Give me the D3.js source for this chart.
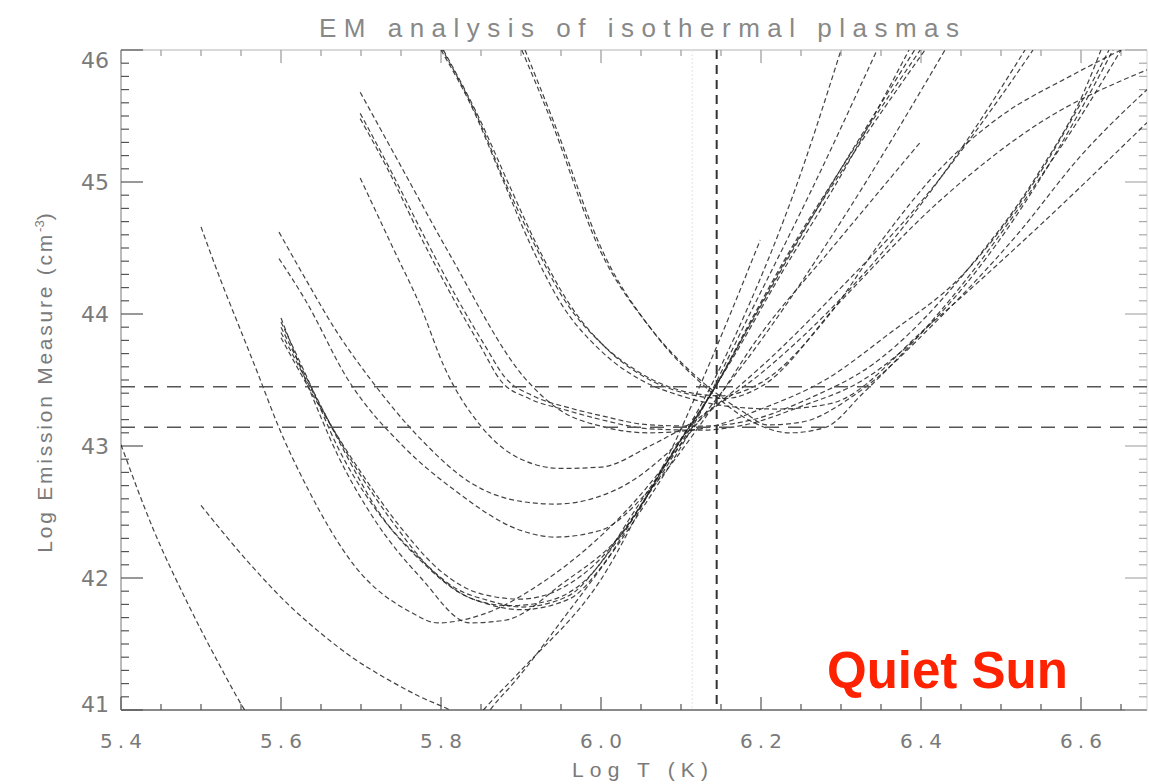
<!DOCTYPE html>
<html>
<head>
<meta charset="utf-8">
<script src="https://cdn.jsdelivr.net/npm/d3@7"></script>
<style>
  html, body { margin: 0; padding: 0; background: #fff; }
  svg { display: block; }
</style>
</head>
<body>
<script>
// ---------- data ----------
const titleText = "EM analysis of isothermal plasmas";
const xTitle = "Log T (K)";
const xMajor = [5.4, 5.6, 5.8, 6.0, 6.2, 6.4, 6.6];
const xLabels = ["5.4", "5.6", "5.8", "6.0", "6.2", "6.4", "6.6"];
const yMajor = [41, 42, 43, 44, 45, 46];
const yLabels = ["41", "42", "43", "44", "45", "46"];
const hRefLines = [43.449, 43.142];
const vRefLine = 6.1446;
const vFaintLine = 6.114;
const labelText = "Quiet Sun";

// EM loci: [log T, log EM]
const curveC1 = [[5.400,43.01],[5.441,42.36],[5.484,41.8],[5.525,41.32],[5.5525,41.02],[5.62,40.5],[5.72,40.3],[5.80,40.6],[5.853,41.0],[5.9,41.3],[5.999,41.98],[6.074,42.80],[6.124,43.3],[6.18,44.0],[6.24,44.9],[6.30,46.0]];
const curveSc = [[5.500,42.55],[5.565,42.08],[5.609,41.8],[5.650,41.58],[5.691,41.39],[5.734,41.23],[5.774,41.10],[5.811,41.0],[5.84,40.9],[5.875,41.1],[5.9575,41.73],[6.04,42.42],[6.124,43.25],[6.186,44.0],[6.26,44.9],[6.345,46.0]];
const curveSb = [[5.500,44.66],[5.525,44.25],[5.548,43.9],[5.571,43.55],[5.596,43.16],[5.634,42.67],[5.691,42.1],[5.7625,41.74],[5.796,41.66],[5.85,41.72],[5.93,41.98],[6.03,42.5],[6.124,43.2],[6.2,43.8],[6.3,44.7],[6.43,46.0]];
const curveF1 = [[5.6,43.97],[5.634,43.45],[5.671,42.93],[5.716,42.45],[5.775,42.0],[5.836,41.66],[5.88,41.68],[5.95,41.95],[6.04,42.45],[6.09,43.0],[6.1325,43.58],[6.165,44.05],[6.199,44.56]];
const curveF2 = [[5.6,43.94],[5.634,43.5],[5.671,42.99],[5.716,42.54],[5.775,42.14],[5.816,41.93],[5.859,41.83],[5.9,41.78],[5.958,41.86],[5.999,42.11],[6.04,42.49],[6.074,42.80],[6.108,43.12],[6.133,43.35],[6.19,43.98],[6.2275,44.39],[6.299,45.09],[6.399,46.0]];
const curveF3 = [[5.6,43.9],[5.64,43.42],[5.68,42.95],[5.72,42.52],[5.78,42.1],[5.82,41.9],[5.86,41.8],[5.9,41.76],[5.96,41.84],[6.0,42.08],[6.045,42.5],[6.08,42.85],[6.113,43.17],[6.14,43.42],[6.195,44.02],[6.235,44.45],[6.305,45.12],[6.405,46.0]];
const curveF4 = [[5.6,43.86],[5.645,43.35],[5.69,42.87],[5.74,42.42],[5.79,42.05],[5.84,41.84],[5.885,41.79],[5.93,41.82],[5.98,41.98],[6.02,42.28],[6.06,42.65],[6.1,43.05],[6.13,43.32],[6.18,43.85],[6.225,44.33],[6.29,45.0],[6.392,46.0]];
const curveF5 = [[5.6,43.82],[5.65,43.28],[5.7,42.8],[5.75,42.38],[5.8,42.05],[5.85,41.88],[5.9,41.84],[5.95,41.92],[6.0,42.15],[6.05,42.55],[6.1,43.02],[6.125,43.27],[6.17,43.72],[6.22,44.25],[6.3,45.05],[6.385,46.0]];
const curveSd = [[5.5975,44.62],[5.634,44.23],[5.666,43.90],[5.7125,43.5],[5.775,43.05],[5.8375,42.72],[5.9,42.58],[5.9425,42.56],[5.999,42.62],[6.04,42.74],[6.08,42.93],[6.124,43.2],[6.2,43.55],[6.286,44.03],[6.37,44.6],[6.45,45.25],[6.53,46.0]];
const curveSe = [[5.5975,44.42],[5.63,44.11],[5.684,43.5],[5.754,42.99],[5.816,42.67],[5.9,42.36],[5.9425,42.31],[5.999,42.36],[6.061,42.67],[6.124,43.16],[6.2,43.85],[6.286,44.48],[6.399,45.30]];
const curveSi = [[5.699,45.03],[5.74,44.5],[5.775,44.05],[5.804,43.6],[5.85,43.15],[5.9,42.9],[5.95,42.83],[6.0,42.84],[6.061,43.0],[6.124,43.22],[6.2,43.6],[6.3,44.2],[6.4,44.85],[6.5,45.65],[6.54,46.0]];
const curveSg = [[5.699,45.68],[5.749,45.13],[5.811,44.45],[5.904,43.52],[5.949,43.27],[6.0,43.15],[6.06,43.1],[6.124,43.13],[6.2,43.28],[6.28,43.5],[6.36,43.85],[6.4525,44.3],[6.536,44.95],[6.6,45.6],[6.635,46.0]];
const curveSh1 = [[5.699,45.48],[5.734,45.09],[5.775,44.58],[5.816,44.11],[5.85,43.75],[5.874,43.5],[5.91,43.36],[5.9575,43.27],[6.0,43.2],[6.061,43.13],[6.124,43.12],[6.18,43.16],[6.25,43.3],[6.3275,43.5],[6.4525,44.2],[6.536,44.9],[6.6,45.55],[6.64,46.0]];
const curveSh2 = [[5.699,45.52],[5.736,45.1],[5.778,44.6],[5.82,44.12],[5.855,43.76],[5.88,43.52],[5.915,43.38],[5.96,43.29],[6.0,43.23],[6.061,43.16],[6.124,43.15],[6.19,43.2],[6.26,43.36],[6.34,43.62],[6.46,44.35],[6.545,45.05],[6.605,45.7],[6.625,46.0]];
const curveSj1 = [[5.8,46.0],[5.84,45.55],[5.875,45.05],[5.91,44.55],[5.95,44.08],[6.0,43.72],[6.05,43.5],[6.1,43.38],[6.16,43.3],[6.22,43.28],[6.286,43.32],[6.411,43.92],[6.536,44.6],[6.6825,45.45]];
const curveSj2 = [[5.8,46.02],[5.845,45.5],[5.88,45.0],[5.915,44.55],[5.955,44.1],[6.0,43.78],[6.05,43.55],[6.1,43.42],[6.15,43.38],[6.2,43.48],[6.286,44.0],[6.35,44.55],[6.424,45.1],[6.5,45.5],[6.586,45.8],[6.65,46.0]];
const curveSj3 = [[5.803,46.0],[5.848,45.48],[5.885,44.98],[5.92,44.52],[5.96,44.08],[6.005,43.75],[6.055,43.52],[6.105,43.4],[6.155,43.36],[6.2,43.45],[6.3,44.1],[6.424,44.86],[6.549,45.45],[6.6825,45.85]];
const curveSk1 = [[5.901,46.0],[5.936,45.49],[5.999,44.48],[6.061,43.90],[6.124,43.5],[6.18,43.25],[6.2075,43.16],[6.25,43.18],[6.32,43.4],[6.42,43.95],[6.52,44.6],[6.6,45.2],[6.6825,45.7]];
const curveSk2 = [[5.905,46.0],[5.94,45.47],[6.004,44.45],[6.066,43.86],[6.13,43.45],[6.19,43.18],[6.236,43.10],[6.28,43.14],[6.3275,43.4],[6.4525,44.23],[6.536,44.92],[6.6,45.5],[6.65,46.0]];

const curves = [curveC1, curveSc, curveSb, curveF1, curveF2, curveF3, curveF4, curveF5,
                curveSd, curveSe, curveSi, curveSg, curveSh1, curveSh2,
                curveSj1, curveSj2, curveSj3, curveSk1, curveSk2];

// ---------- drawing ----------
const W = 1149, H = 784;
const svg = d3.select("body").append("svg").attr("width", W).attr("height", H);

const x = d3.scaleLinear().domain([5.4, 6.6825]).range([121, 1147]);
const y = d3.scaleLinear().domain([41, 46]).range([710, 50]);

svg.append("defs").append("clipPath").attr("id", "plotclip")
  .append("rect").attr("x", x.range()[0]).attr("y", y.range()[1])
  .attr("width", x.range()[1] - x.range()[0]).attr("height", y.range()[0] - y.range()[1]);

const axisColor = "#8a8a8a";
const tickColor = "#555";
const textColor = "#7a7a7a";
const tickFont = "DejaVu Sans, Verdana, sans-serif";

// frame
const x0 = x(5.4), x1 = x(6.6825), yb = y(41), yt = y(46);
svg.append("line").attr("x1", x0).attr("x2", x1).attr("y1", yb).attr("y2", yb).attr("stroke", axisColor).attr("stroke-width", 2);
svg.append("line").attr("x1", x0).attr("x2", x1).attr("y1", yt).attr("y2", yt).attr("stroke", "#ccc").attr("stroke-width", 1.5);
svg.append("line").attr("x1", x0).attr("x2", x0).attr("y1", yt).attr("y2", yb).attr("stroke", "#bbb").attr("stroke-width", 2);
svg.append("line").attr("x1", x1).attr("x2", x1).attr("y1", yt).attr("y2", yb).attr("stroke", "#ddd").attr("stroke-width", 1.2);

// x ticks
const xMinor = d3.range(0, 26).map(i => 5.4 + i * 0.05).filter(v => v <= 6.6825);
xMinor.forEach(v => {
  const major = xMajor.some(m => Math.abs(m - v) < 1e-6);
  const len = major ? 13 : 6;
  svg.append("line").attr("x1", x(v)).attr("x2", x(v)).attr("y1", yb).attr("y2", yb - len).attr("stroke", tickColor).attr("stroke-width", 1.2);
  svg.append("line").attr("x1", x(v)).attr("x2", x(v)).attr("y1", yt).attr("y2", yt + len).attr("stroke", "#999").attr("stroke-width", 1.2);
});
// y ticks
const yMinor = d3.range(0, 51).map(i => 41 + i * 0.1);
yMinor.forEach(v => {
  const major = yMajor.some(m => Math.abs(m - v) < 1e-6);
  const len = major ? 22 : 8;
  svg.append("line").attr("x1", x0).attr("x2", x0 + len).attr("y1", y(v)).attr("y2", y(v)).attr("stroke", tickColor).attr("stroke-width", 1.2);
  svg.append("line").attr("x1", x1).attr("x2", x1 - len).attr("y1", y(v)).attr("y2", y(v)).attr("stroke", "#aaa").attr("stroke-width", 1.2);
});

// tick labels
xMajor.forEach((v, i) => {
  svg.append("text").attr("x", x(v)).attr("y", 748).attr("text-anchor", "middle")
    .attr("font-family", tickFont).attr("font-size", 20)
    .attr("fill", textColor).attr("textLength", 42).attr("lengthAdjust", "spacing").text(xLabels[i]);
});
yMajor.forEach((v, i) => {
  const cy = Math.min(Math.max(y(v), 60), 704);
  svg.append("text").attr("x", 109).attr("y", cy + 8).attr("text-anchor", "end")
    .attr("font-family", tickFont).attr("font-size", 22)
    .attr("fill", textColor).text(yLabels[i]);
});

// titles
svg.append("text").attr("x", 639).attr("y", 37).attr("text-anchor", "middle")
  .attr("font-family", "Liberation Sans, Arial, sans-serif").attr("font-size", 26)
  .attr("fill", "#888").attr("textLength", 640).attr("lengthAdjust", "spacing").text(titleText);
svg.append("text").attr("x", 640).attr("y", 777).attr("text-anchor", "middle")
  .attr("font-family", "Liberation Sans, Arial, sans-serif").attr("font-size", 21)
  .attr("fill", textColor).attr("textLength", 136).attr("lengthAdjust", "spacing").text(xTitle);
const yt2 = svg.append("text").attr("transform", "translate(52,383) rotate(-90)").attr("text-anchor", "middle")
  .attr("font-family", "Liberation Sans, Arial, sans-serif").attr("font-size", 21)
  .attr("fill", textColor);
yt2.append("tspan").attr("textLength", 318).attr("lengthAdjust", "spacing").text("Log Emission Measure (cm");
yt2.append("tspan").attr("dy", -8).attr("font-size", 13).text("-3");
yt2.append("tspan").attr("dy", 8).text(")");

// plot content
const g = svg.append("g").attr("clip-path", "url(#plotclip)");

g.append("line").attr("x1", x(vFaintLine)).attr("x2", x(vFaintLine)).attr("y1", yt).attr("y2", yb)
  .attr("stroke", "#e4e4e4").attr("stroke-width", 1).attr("stroke-dasharray", "2,2");

const line = d3.line().x(d => x(d[0])).y(d => y(d[1])).curve(d3.curveMonotoneX);
curves.forEach(c => {
  g.append("path").datum(c).attr("d", line).attr("fill", "none")
    .attr("stroke", "#222").attr("stroke-opacity", 0.85).attr("stroke-width", 1.2)
    .attr("stroke-dasharray", "5,3");
});

hRefLines.forEach(v => {
  g.append("line").attr("x1", x0).attr("x2", x1).attr("y1", y(v)).attr("y2", y(v))
    .attr("stroke", "#555").attr("stroke-width", 1.5).attr("stroke-dasharray", "14,9");
});
g.append("line").attr("x1", x(vRefLine)).attr("x2", x(vRefLine)).attr("y1", yt).attr("y2", yb)
  .attr("stroke", "#333").attr("stroke-width", 2).attr("stroke-dasharray", "9,6");

// label
svg.append("text").attr("x", 827).attr("y", 688)
  .attr("font-family", "Liberation Sans, Arial, sans-serif").attr("font-weight", "bold")
  .attr("font-size", 51).attr("fill", "#ff2200").text(labelText);
</script>
</body>
</html>
